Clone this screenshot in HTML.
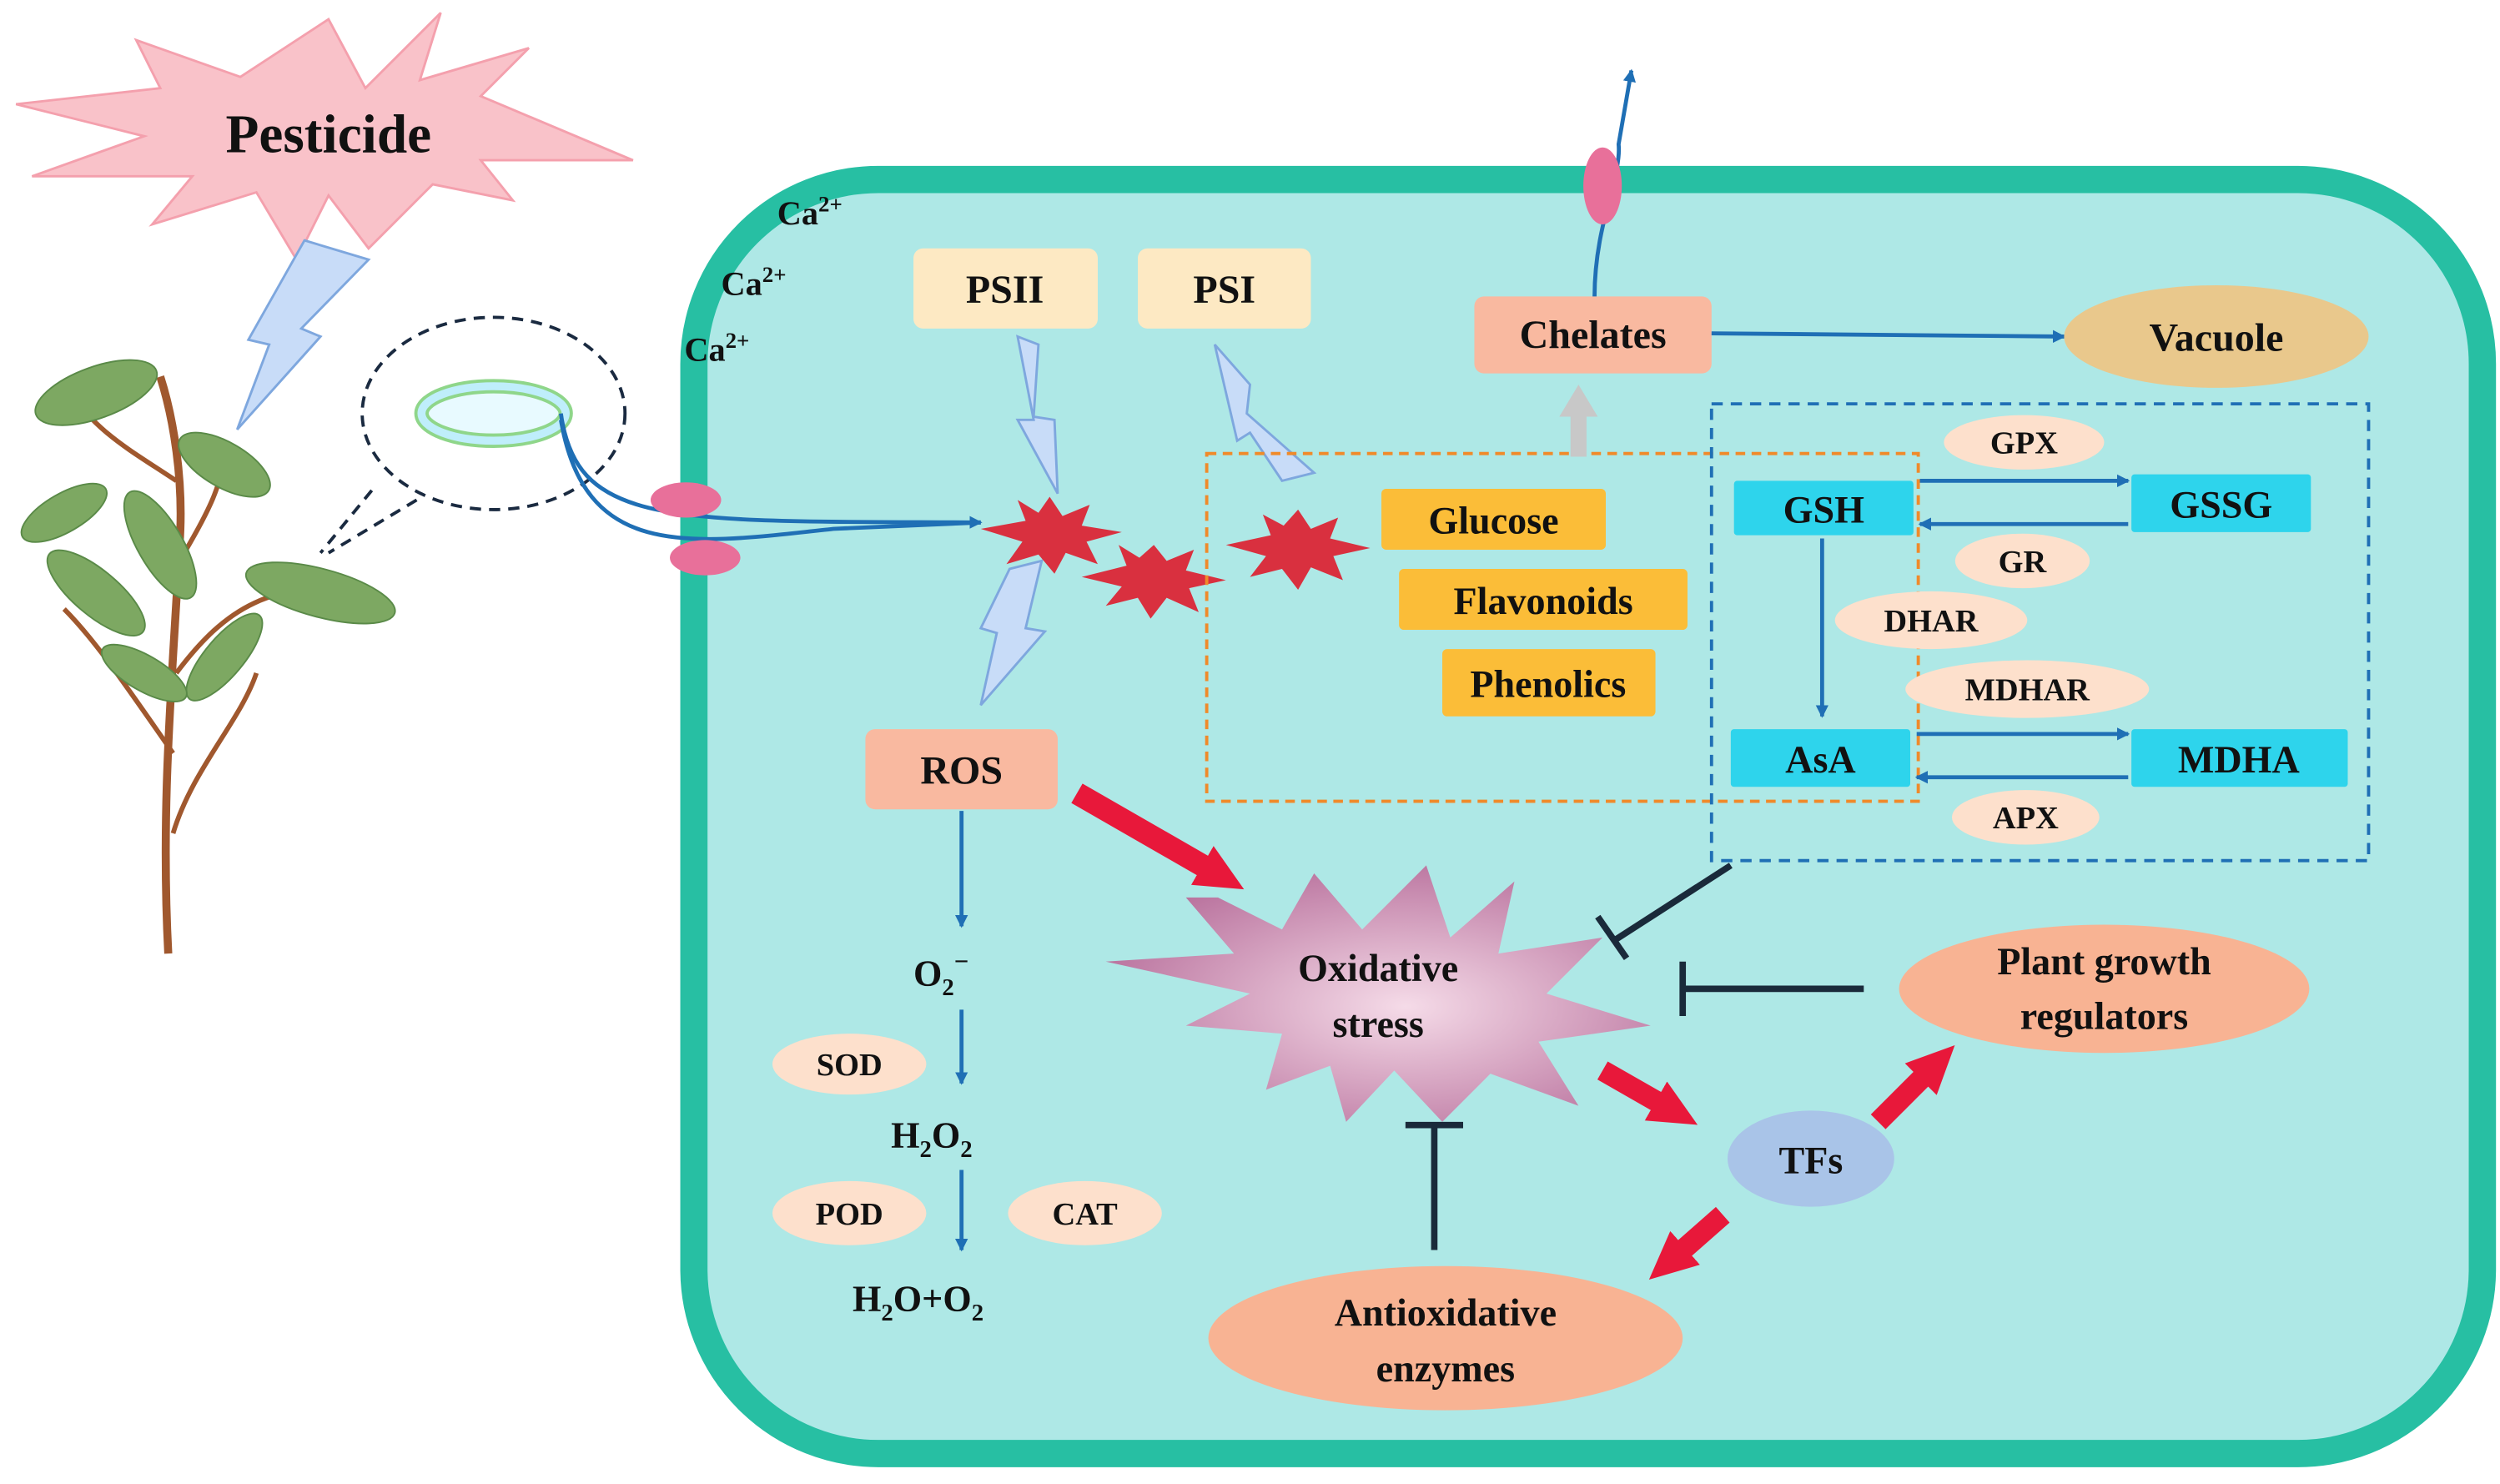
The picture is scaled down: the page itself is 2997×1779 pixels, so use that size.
<!DOCTYPE html>
<html><head><meta charset="utf-8"><style>
html,body{margin:0;padding:0;background:#fff;}
svg{display:block;}
text{font-family:"Liberation Serif",serif;font-weight:bold;fill:#111;}
</style></head><body>
<svg width="2997" height="1779" viewBox="0 0 1560 926" preserveAspectRatio="none" xmlns="http://www.w3.org/2000/svg">
<defs>
<marker id="ab" markerWidth="8" markerHeight="8" refX="7" refY="4" orient="auto" markerUnits="userSpaceOnUse"><path d="M0,0 L8,4 L0,8 z" fill="#1f6fb5"/></marker>
<marker id="ar" markerWidth="40" markerHeight="40" refX="2" refY="20" orient="auto" markerUnits="userSpaceOnUse"><path d="M0,6 L30,20 L0,34 z" fill="#e8183a"/></marker>
<marker id="ag" markerWidth="30" markerHeight="30" refX="2" refY="15" orient="auto" markerUnits="userSpaceOnUse"><path d="M0,3 L20,15 L0,27 z" fill="#c8c8c8"/></marker>
<radialGradient id="os" cx="0.55" cy="0.55" r="0.6"><stop offset="0" stop-color="#f5dbe8"/><stop offset="1" stop-color="#b8709c"/></radialGradient>
</defs>
<!-- cell -->
<rect x="433" y="112" width="1116" height="795" rx="115" ry="115" fill="#aee8e6" stroke="#27bfa3" stroke-width="17"/>
<!-- pesticide -->
<polygon points="205,12 228,55 275,8 262,50 330,30 300,60 395,100 300,100 320,125 270,115 230,155 205,122 185,162 160,120 95,140 120,110 20,110 90,85 10,65 100,55 85,25 150,48" fill="#f9c2c9" stroke="#f4a0ad" stroke-width="1.5"/>
<text x="205" y="95" font-size="34" text-anchor="middle">Pesticide</text>
<polygon points="190,150 230,162 188,205 200,210 148,268 168,215 155,212" fill="#c8dcf8" stroke="#7ea7de" stroke-width="1.5"/>
<!-- plant -->
<path d="M105,595 C100,500 108,420 112,340 C115,300 108,260 100,235" stroke="#a0582e" stroke-width="5" fill="none"/>
<path d="M110,420 C140,380 170,360 230,370 M108,470 C80,430 60,400 40,380 M112,350 C130,320 140,300 140,280 M110,300 C80,280 60,270 40,240 M108,520 C120,480 150,450 160,420" stroke="#a0582e" stroke-width="3" fill="none"/>
<g fill="#7da862" stroke="#5a8a48" stroke-width="1">
<ellipse cx="60" cy="245" rx="40" ry="16" transform="rotate(-20 60 245)"/>
<ellipse cx="140" cy="290" rx="32" ry="14" transform="rotate(30 140 290)"/>
<ellipse cx="40" cy="320" rx="30" ry="12" transform="rotate(-30 40 320)"/>
<ellipse cx="100" cy="340" rx="38" ry="14" transform="rotate(60 100 340)"/>
<ellipse cx="200" cy="370" rx="48" ry="15" transform="rotate(15 200 370)"/>
<ellipse cx="60" cy="370" rx="38" ry="14" transform="rotate(40 60 370)"/>
<ellipse cx="140" cy="410" rx="34" ry="12" transform="rotate(-50 140 410)"/>
<ellipse cx="90" cy="420" rx="30" ry="11" transform="rotate(30 90 420)"/>
</g>
<ellipse cx="308" cy="258" rx="82" ry="60" fill="none" stroke="#1a2a40" stroke-width="2" stroke-dasharray="7,5"/>
<line x1="232" y1="306" x2="200" y2="345" stroke="#1a2a40" stroke-width="2" stroke-dasharray="7,5"/>
<line x1="260" y1="312" x2="205" y2="345" stroke="#1a2a40" stroke-width="2" stroke-dasharray="7,5"/>
<ellipse cx="308" cy="258" rx="45" ry="17" fill="#e8faff" stroke="#8fd68a" stroke-width="9"/>
<ellipse cx="308" cy="258" rx="45" ry="17" fill="none" stroke="#bfeefb" stroke-width="5"/>
<path d="M350,258 C360,330 420,325 612,326" stroke="#1f6fb5" stroke-width="2.5" fill="none" marker-end="url(#ab)"/>
<path d="M350,262 C365,350 430,340 520,330 L612,326" stroke="#1f6fb5" stroke-width="2.5" fill="none"/>
<ellipse cx="428" cy="312" rx="22" ry="11" fill="#e8709a"/>
<ellipse cx="440" cy="348" rx="22" ry="11" fill="#e8709a"/>
<text x="485" y="140" font-size="21">Ca<tspan font-size="14" dy="-8">2+</tspan></text>
<text x="450" y="184" font-size="21">Ca<tspan font-size="14" dy="-8">2+</tspan></text>
<text x="427" y="225" font-size="21">Ca<tspan font-size="14" dy="-8">2+</tspan></text>
<!-- PSII/PSI -->
<rect x="570" y="155" width="115" height="50" rx="6" fill="#fde9c3"/>
<text x="627" y="189" font-size="25" text-anchor="middle">PSII</text>
<rect x="710" y="155" width="108" height="50" rx="6" fill="#fde9c3"/>
<text x="764" y="189" font-size="25" text-anchor="middle">PSI</text>
<g fill="#c8dcf8" stroke="#7ea7de" stroke-width="1.5">
<polygon points="635,210 648,215 645,260 658,262 660,308 635,262 645,262"/>
<polygon points="758,215 780,240 778,258 820,295 800,300 780,270 772,275"/>
<polygon points="650,350 640,392 652,394 612,440 622,395 612,392 630,355"/>
</g>
<g fill="#d9303f">
<polygon points="655,310 663,322 680,315 675,328 700,332 678,338 685,352 665,345 658,358 648,346 628,352 638,338 612,330 640,325 635,312 648,320"/>
<polygon points="720,340 728,350 745,343 740,356 765,362 742,367 748,382 728,373 718,386 710,373 690,378 700,366 675,360 703,353 698,340 711,348"/>
<polygon points="810,318 818,330 835,323 830,336 855,342 832,347 838,362 818,354 810,368 800,355 780,360 790,347 765,340 793,334 788,321 801,328"/>
</g>
<!-- orange dashed -->
<rect x="753" y="283" width="444" height="217" fill="none" stroke="#f08a2a" stroke-width="2" stroke-dasharray="6,4"/>
<rect x="862" y="305" width="140" height="38" rx="3" fill="#fbbd38"/>
<text x="932" y="333" font-size="24" text-anchor="middle">Glucose</text>
<rect x="873" y="355" width="180" height="38" rx="3" fill="#fbbd38"/>
<text x="963" y="383" font-size="24" text-anchor="middle">Flavonoids</text>
<rect x="900" y="405" width="133" height="42" rx="3" fill="#fbbd38"/>
<text x="966" y="435" font-size="24" text-anchor="middle">Phenolics</text>
<!-- chelates -->
<line x1="985" y1="285" x2="985" y2="258" stroke="#c8c8c8" stroke-width="10" marker-end="url(#ag)"/>
<rect x="920" y="185" width="148" height="48" rx="6" fill="#f9b9a0"/>
<text x="994" y="217" font-size="25" text-anchor="middle">Chelates</text>
<path d="M995,185 C995,140 1012,110 1010,90 L1018,44" stroke="#1f6fb5" stroke-width="2.5" fill="none" marker-end="url(#ab)"/>
<ellipse cx="1000" cy="116" rx="12" ry="24" fill="#e8709a"/>
<line x1="1068" y1="208" x2="1288" y2="210" stroke="#1f6fb5" stroke-width="2.5" marker-end="url(#ab)"/>
<ellipse cx="1383" cy="210" rx="95" ry="32" fill="#e9c88c"/>
<text x="1383" y="219" font-size="25" text-anchor="middle">Vacuole</text>
<!-- blue dashed -->
<rect x="1068" y="252" width="410" height="285" fill="none" stroke="#1f6fb5" stroke-width="2" stroke-dasharray="7,5"/>
<g fill="#2ed4ec">
<rect x="1082" y="300" width="112" height="34" rx="2"/>
<rect x="1330" y="296" width="112" height="36" rx="2"/>
<rect x="1080" y="455" width="112" height="36" rx="2"/>
<rect x="1330" y="455" width="135" height="36" rx="2"/>
</g>
<text x="1138" y="326" font-size="24" text-anchor="middle">GSH</text>
<text x="1386" y="323" font-size="24" text-anchor="middle">GSSG</text>
<text x="1136" y="482" font-size="24" text-anchor="middle">AsA</text>
<text x="1397" y="482" font-size="24" text-anchor="middle">MDHA</text>
<g stroke="#1f6fb5" stroke-width="2.5" marker-end="url(#ab)">
<line x1="1198" y1="300" x2="1328" y2="300"/>
<line x1="1328" y1="327" x2="1198" y2="327"/>
<line x1="1137" y1="336" x2="1137" y2="447"/>
<line x1="1196" y1="458" x2="1328" y2="458"/>
<line x1="1328" y1="485" x2="1196" y2="485"/>
</g>
<g fill="#fde0cc">
<ellipse cx="1263" cy="276" rx="50" ry="17"/>
<ellipse cx="1262" cy="350" rx="42" ry="17"/>
<ellipse cx="1205" cy="387" rx="60" ry="18"/>
<ellipse cx="1265" cy="430" rx="76" ry="18"/>
<ellipse cx="1264" cy="510" rx="46" ry="17"/>
</g>
<g font-size="20"><text x="1263" y="283" text-anchor="middle">GPX</text>
<text x="1262" y="357" text-anchor="middle">GR</text>
<text x="1205" y="394" text-anchor="middle">DHAR</text>
<text x="1265" y="437" text-anchor="middle">MDHAR</text>
<text x="1264" y="517" text-anchor="middle">APX</text></g>
<!-- ROS -->
<rect x="540" y="455" width="120" height="50" rx="6" fill="#f9b9a0"/>
<text x="600" y="489" font-size="25" text-anchor="middle">ROS</text>
<g stroke="#1f6fb5" stroke-width="2.5" marker-end="url(#ab)">
<line x1="600" y1="506" x2="600" y2="578"/>
<line x1="600" y1="630" x2="600" y2="676"/>
<line x1="600" y1="730" x2="600" y2="780"/>
</g>
<text x="570" y="615" font-size="23">O<tspan font-size="15" dy="6">2</tspan><tspan font-size="16" dy="-16">−</tspan></text>
<text x="556" y="716" font-size="23">H<tspan font-size="15" dy="6">2</tspan><tspan dy="-6">O</tspan><tspan font-size="15" dy="6">2</tspan></text>
<text x="532" y="818" font-size="23">H<tspan font-size="15" dy="6">2</tspan><tspan dy="-6">O+O</tspan><tspan font-size="15" dy="6">2</tspan></text>
<g fill="#fde0cc"><ellipse cx="530" cy="664" rx="48" ry="19"/><ellipse cx="530" cy="757" rx="48" ry="20"/><ellipse cx="677" cy="757" rx="48" ry="20"/></g>
<g font-size="20"><text x="530" y="671" text-anchor="middle">SOD</text><text x="530" y="764" text-anchor="middle">POD</text><text x="677" y="764" text-anchor="middle">CAT</text></g>
<!-- oxidative stress -->
<polygon points="760,560 800,580 820,545 850,580 890,540 905,585 945,550 935,595 1000,585 965,620 1030,640 960,650 985,690 930,670 900,700 870,668 840,700 830,665 790,680 800,645 740,640 780,620 690,600 770,595 740,560" fill="url(#os)"/>
<text x="860" y="612" font-size="24" text-anchor="middle">Oxidative</text>
<text x="860" y="647" font-size="24" text-anchor="middle">stress</text>
<line x1="672" y1="495" x2="752" y2="541" stroke="#e8183a" stroke-width="14" marker-end="url(#ar)"/>
<g stroke="#1a2a3a" stroke-width="4" fill="none">
<line x1="1080" y1="540" x2="1007" y2="587"/><line x1="997" y1="572" x2="1015" y2="598"/>
<line x1="1163" y1="617" x2="1050" y2="617"/><line x1="1050" y1="600" x2="1050" y2="634"/>
<line x1="895" y1="780" x2="895" y2="702"/><line x1="877" y1="702" x2="913" y2="702"/>
</g>
<ellipse cx="1313" cy="617" rx="128" ry="40" fill="#f8b393"/>
<text x="1313" y="608" font-size="24" text-anchor="middle">Plant growth</text>
<text x="1313" y="642" font-size="24" text-anchor="middle">regulators</text>
<ellipse cx="1130" cy="723" rx="52" ry="30" fill="#a9c4e8"/>
<text x="1130" y="732" font-size="24" text-anchor="middle">TFs</text>
<ellipse cx="902" cy="835" rx="148" ry="45" fill="#f8b393"/>
<text x="902" y="827" font-size="24" text-anchor="middle">Antioxidative</text>
<text x="902" y="862" font-size="24" text-anchor="middle">enzymes</text>
<g stroke="#e8183a" stroke-width="13">
<line x1="1000" y1="668" x2="1035" y2="688" marker-end="url(#ar)"/>
<line x1="1172" y1="700" x2="1200" y2="672" marker-end="url(#ar)"/>
<line x1="1075" y1="758" x2="1050" y2="780" marker-end="url(#ar)"/>
</g>
</svg>
</body></html>
